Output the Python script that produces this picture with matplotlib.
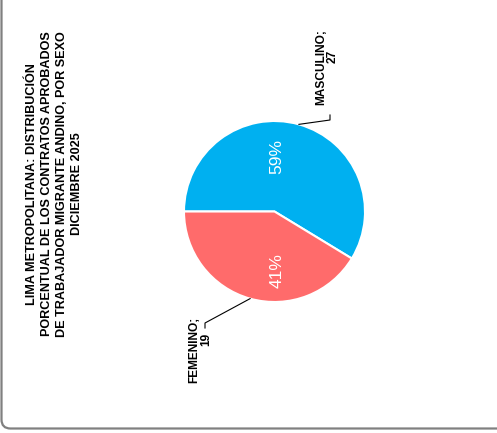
import numpy as np
import matplotlib
matplotlib.use("Agg")
import matplotlib.pyplot as plt
from matplotlib.patches import FancyBboxPatch

categories = ["MASCULINO", "FEMENINO"]
values = [27, 19]
colors = ["#00B0F0", "#FF6B6B"]
title_lines = [
    "LIMA METROPOLITANA: DISTRIBUCIÓN",
    "PORCENTUAL DE LOS CONTRATOS APROBADOS",
    "DE TRABAJADOR MIGRANTE ANDINO, POR SEXO",
    "DICIEMBRE 2025",
]

W, H = 497, 433
plt.rcParams['font.family'] = ['Liberation Sans', 'DejaVu Sans']
fig = plt.figure(figsize=(W / 100, H / 100), dpi=100)
ax = fig.add_axes([0, 0, 1, 1])

# frame (rounded rectangle, partly outside the canvas)
frame = FancyBboxPatch((1.5, 4.5), W + 40, H + 40,
                       boxstyle="round,pad=0,rounding_size=9",
                       fc='white', ec='#808080', lw=1.6, zorder=0)
ax.add_patch(frame)

cx, cy, r = 274.5, 221.5, 90.5
total = sum(values)
wedges, texts, autotexts = ax.pie(
    values, colors=colors, startangle=180, counterclock=False,
    center=(cx, cy), radius=r, frame=True,
    autopct=lambda p: f"{p:.0f}%",
    wedgeprops=dict(edgecolor='white', linewidth=1.5),
    textprops=dict(color='white', fontsize=12.5, rotation=90))
ax.set_xlim(0, W)
ax.set_ylim(0, H)
ax.set_aspect('equal')
ax.axis('off')

# percent label positions relative to the centre
pct_offsets = [(2.5, 55.5), (2.5, -59.5)]
for t, (dx, dy) in zip(autotexts, pct_offsets):
    t.set_position((cx + dx, cy + dy))
    t.set_ha('center')
    t.set_va('center')

# outer labels with leader lines
elbows = [((330, H - 120), (330, H - 115)), ((205, H - 323), (205, H - 328))]
label_pos = [(327, H - 67), (200, H - 350)]
start = 180.0
for i, (cat, v) in enumerate(zip(categories, values)):
    sweep = 360.0 * v / total
    mid = np.deg2rad(start - sweep / 2)
    start -= sweep
    ex, ey = cx + r * np.cos(mid), cy + r * np.sin(mid)
    (bx, by), (tx, ty) = elbows[i]
    ax.plot([ex, bx, tx], [ey, by, ty], color='black', lw=0.8, zorder=5)
    lx, ly = label_pos[i]
    ax.text(lx - 5.5, ly, f"{cat};", rotation=90, ha='center', va='center',
            fontsize=8.6, fontweight='bold')
    ax.text(lx + 6, ly + 11, f"{v}", rotation=90, ha='center', va='center',
            fontsize=8.6, fontweight='bold')

ax.text(54.5, H - 184, "\n".join(title_lines), rotation=90, ha='center',
        va='center', multialignment='center', fontsize=9.1,
        fontweight='bold', linespacing=1.3)

fig.savefig("out.png", dpi=100)
